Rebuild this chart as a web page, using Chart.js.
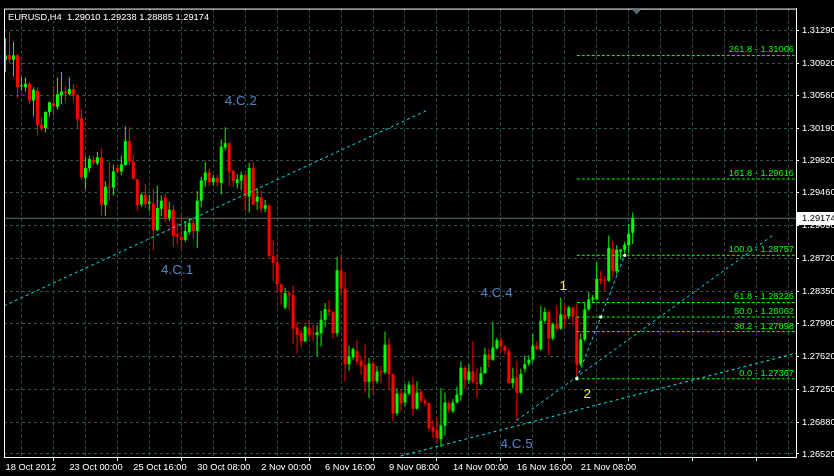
<!DOCTYPE html>
<html lang="en">
<head>
  <meta charset="UTF-8">
  <title>EURUSD,H4</title>
  <style>
    html, body {
      margin: 0;
      padding: 0;
      background-color: #000000;
    }

    #wrap {
      width: 834px;
      height: 476px;
    }
  </style>
</head>
<body>

  <div id="wrap"><canvas id="priceChart" width="834" height="476"></canvas></div>

  <script src="https://cdn.jsdelivr.net/npm/chart.js"></script>

  <script>
    const symbol = "EURUSD,H4";

    // one label every 16 bars (H4 bars), first bar = index 0
    const timeLabels = ["18 Oct 2012", "23 Oct 00:00", "25 Oct 16:00", "30 Oct 08:00", "2 Nov 00:00",
      "6 Nov 16:00", "9 Nov 08:00", "14 Nov 00:00", "16 Nov 16:00", "21 Nov 08:00"];

    const open = [
      1.3096, 1.3101, 1.3096, 1.3101, 1.3066, 1.3065, 1.3069, 1.3050, 1.3061, 1.3023,
      1.3019, 1.3037, 1.3047, 1.3043, 1.3056, 1.3060, 1.3057, 1.3063, 1.3056, 1.3030,
      1.2963, 1.2974, 1.2983, 1.2979, 1.2986, 1.2932, 1.2953, 1.2952, 1.2974, 1.2970,
      1.2977, 1.3004, 1.2981, 1.2961, 1.2933, 1.2944, 1.2934, 1.2934, 1.2904, 1.2928,
      1.2941, 1.2918, 1.2927, 1.2899, 1.2897, 1.2893, 1.2902, 1.2912, 1.2903, 1.2937,
      1.2960, 1.2969, 1.2958, 1.2963, 1.2957, 1.2997, 1.3002, 1.2971, 1.2957, 1.2960,
      1.2966, 1.2942, 1.2974, 1.2936, 1.2941, 1.2928, 1.2932, 1.2875, 1.2868, 1.2843,
      1.2817, 1.2833, 1.2831, 1.2794, 1.2788, 1.2779, 1.2794, 1.2788, 1.2786, 1.2788,
      1.2803, 1.2815, 1.2812, 1.2788, 1.2859, 1.2838, 1.2753, 1.2761, 1.2768, 1.2757,
      1.2752, 1.2733, 1.2754, 1.2734, 1.2745, 1.2744, 1.2775, 1.2742, 1.2698, 1.2720,
      1.2710, 1.2720, 1.2730, 1.2703, 1.2722, 1.2712, 1.2709, 1.2682, 1.2679, 1.2669,
      1.2684, 1.2709, 1.2700, 1.2710, 1.2718, 1.2749, 1.2735, 1.2745, 1.2732, 1.2731,
      1.2743, 1.2764, 1.2758, 1.2771, 1.2780, 1.2773, 1.2768, 1.2732, 1.2738, 1.2721,
      1.2748, 1.2754, 1.2758, 1.2774, 1.2770, 1.2802, 1.2812, 1.2782, 1.2798, 1.2793,
      1.2809, 1.2807, 1.2817, 1.2807, 1.2753, 1.2781, 1.2815, 1.2826, 1.2826, 1.2849,
      1.2848, 1.2847, 1.2883, 1.2858, 1.2880, 1.2882, 1.2887, 1.29010
    ];
    const high = [
      1.3120, 1.3128, 1.3116, 1.3102, 1.3077, 1.3076, 1.3070, 1.3065, 1.3065, 1.3031,
      1.3038, 1.3049, 1.3066, 1.3076, 1.3082, 1.3066, 1.3076, 1.3069, 1.3058, 1.3040,
      1.2987, 1.2988, 1.2987, 1.2992, 1.2996, 1.2959, 1.2981, 1.2978, 1.2978, 1.2988,
      1.3021, 1.3020, 1.2989, 1.2962, 1.2946, 1.2956, 1.2943, 1.2951, 1.2954, 1.2943,
      1.2946, 1.2936, 1.2932, 1.2912, 1.2921, 1.2914, 1.2917, 1.2917, 1.2948, 1.2964,
      1.2981, 1.2973, 1.2966, 1.2966, 1.3006, 1.3020, 1.3003, 1.2972, 1.2967, 1.2970,
      1.2967, 1.2980, 1.2981, 1.2951, 1.2948, 1.2938, 1.2933, 1.2893, 1.2877, 1.2844,
      1.2839, 1.2835, 1.2842, 1.2801, 1.2792, 1.2797, 1.2803, 1.2798, 1.2797, 1.2813,
      1.2822, 1.2825, 1.2813, 1.2874, 1.2876, 1.2857, 1.2774, 1.2772, 1.2780, 1.2762,
      1.2775, 1.2760, 1.2757, 1.2751, 1.2751, 1.2790, 1.2782, 1.2743, 1.2726, 1.2725,
      1.2731, 1.2734, 1.2739, 1.2734, 1.2724, 1.2715, 1.2710, 1.2690, 1.2694, 1.2726,
      1.2721, 1.2712, 1.2714, 1.2728, 1.2756, 1.2751, 1.2753, 1.2779, 1.2749, 1.2750,
      1.2772, 1.2770, 1.2801, 1.2783, 1.2784, 1.2775, 1.2771, 1.2749, 1.2757, 1.2748,
      1.2763, 1.2763, 1.2787, 1.2779, 1.2819, 1.2817, 1.2814, 1.2800, 1.2819, 1.2828,
      1.2820, 1.2819, 1.2818, 1.2821, 1.2788, 1.2823, 1.2834, 1.2831, 1.2868, 1.2858,
      1.2852, 1.2898, 1.2892, 1.2887, 1.2883, 1.2891, 1.2911, 1.29238
    ];
    const low = [
      1.3082, 1.3092, 1.3077, 1.3053, 1.3061, 1.3060, 1.3046, 1.3032, 1.3011, 1.3016,
      1.3014, 1.3032, 1.3033, 1.3040, 1.3046, 1.3049, 1.3056, 1.3049, 1.3019, 1.2961,
      1.2950, 1.2970, 1.2977, 1.2977, 1.2920, 1.2920, 1.2937, 1.2943, 1.2968, 1.2966,
      1.2977, 1.2977, 1.2961, 1.2926, 1.2930, 1.2929, 1.2926, 1.2881, 1.2903, 1.2920,
      1.2913, 1.2914, 1.2885, 1.2888, 1.2883, 1.2891, 1.2899, 1.2894, 1.2884, 1.2930,
      1.2953, 1.2954, 1.2954, 1.2953, 1.2944, 1.2994, 1.2954, 1.2953, 1.2951, 1.2949,
      1.2926, 1.2924, 1.2932, 1.2927, 1.2923, 1.2924, 1.2873, 1.2847, 1.2834, 1.2820,
      1.2815, 1.2814, 1.2776, 1.2765, 1.2772, 1.2778, 1.2783, 1.2779, 1.2762, 1.2773,
      1.2795, 1.2807, 1.2782, 1.2784, 1.2830, 1.2734, 1.2746, 1.2758, 1.2752, 1.2741,
      1.2721, 1.2715, 1.2720, 1.2731, 1.2732, 1.2742, 1.2725, 1.2689, 1.2695, 1.2700,
      1.2706, 1.2718, 1.2695, 1.2702, 1.2709, 1.2706, 1.2677, 1.2670, 1.2664, 1.2660,
      1.2673, 1.2698, 1.2698, 1.2709, 1.2712, 1.2725, 1.2731, 1.2731, 1.2715, 1.2729,
      1.2742, 1.2750, 1.2757, 1.2770, 1.2766, 1.2764, 1.2731, 1.2726, 1.2690, 1.2720,
      1.2744, 1.2751, 1.2755, 1.2769, 1.2768, 1.2800, 1.2763, 1.2780, 1.2790, 1.2792,
      1.2794, 1.2804, 1.2797, 1.27367, 1.2751, 1.2779, 1.2813, 1.2822, 1.2825, 1.2843,
      1.2835, 1.2846, 1.2851, 1.2854, 1.2871, 1.2874, 1.2878, 1.28885
    ];
    const close = [
      1.3101, 1.3096, 1.3101, 1.3065, 1.3067, 1.3069, 1.3050, 1.3062, 1.3022, 1.3018,
      1.3037, 1.3048, 1.3044, 1.3057, 1.3060, 1.3058, 1.3063, 1.3056, 1.3029, 1.2964,
      1.2974, 1.2984, 1.2980, 1.2986, 1.2932, 1.2953, 1.2952, 1.2970, 1.2970, 1.2978,
      1.3004, 1.2981, 1.2962, 1.2932, 1.2944, 1.2933, 1.2936, 1.2904, 1.2929, 1.2937,
      1.2918, 1.2927, 1.2898, 1.2897, 1.2893, 1.2903, 1.2912, 1.2903, 1.2937, 1.2960,
      1.2969, 1.2958, 1.2963, 1.2958, 1.2998, 1.3002, 1.2970, 1.2959, 1.2961, 1.2966,
      1.2942, 1.2974, 1.2933, 1.2942, 1.2928, 1.2932, 1.2875, 1.2867, 1.2843, 1.2834,
      1.2833, 1.2831, 1.2793, 1.2786, 1.2779, 1.2795, 1.2786, 1.2787, 1.2789, 1.2803,
      1.2815, 1.2812, 1.2788, 1.2859, 1.2838, 1.2753, 1.2762, 1.2770, 1.2756, 1.2751,
      1.2733, 1.2754, 1.2734, 1.2745, 1.2744, 1.2775, 1.2742, 1.2698, 1.2720, 1.2709,
      1.2720, 1.2730, 1.2703, 1.2721, 1.2712, 1.2709, 1.2681, 1.2677, 1.2670, 1.2684,
      1.2710, 1.2702, 1.2710, 1.2719, 1.2749, 1.2736, 1.2745, 1.2733, 1.2731, 1.2743,
      1.2764, 1.2758, 1.2772, 1.2780, 1.2773, 1.2768, 1.2732, 1.2737, 1.2721, 1.2742,
      1.2753, 1.2758, 1.2774, 1.2770, 1.2802, 1.2812, 1.2782, 1.2798, 1.2793, 1.2809,
      1.2804, 1.2817, 1.2807, 1.2753, 1.2781, 1.2815, 1.2826, 1.2828, 1.2849, 1.2847,
      1.2847, 1.2884, 1.2858, 1.2882, 1.2882, 1.2888, 1.2900, 1.29174
    ];

    const priceTicks = [1.26520, 1.26880, 1.27250, 1.27620, 1.27990, 1.28350, 1.28720,
      1.29090, 1.29460, 1.29820, 1.30190, 1.30560, 1.30920, 1.31290];

    // fibonacci retracement drawn from bar 143
    const fibLevels = ["0.0", "38.2", "50.0", "61.8", "100.0", "161.8", "261.8"];
    const fibPrices = [1.27367, 1.27898, 1.28062, 1.28226, 1.28757, 1.29616, 1.31006];
    const fibStartBar = 143;
    const fibMarkBars = [143, 149, 155];
    const fibMarkPrices = [1.27367, 1.28062, 1.28757];

    // trend lines: [bar, price] start and end
    const trendStart = [[-0.375, 1.28188], [98.9, 1.26497], [128, 1.26900], [143, 1.27367]];
    const trendEnd = [[105.55, 1.30389], [197.875, 1.27654], [191.9, 1.28977], [155, 1.28757]];

    const waveText = ["4.C.1", "4.C.2", "4.C.4", "4.C.5"];
    const waveBars = [38.9, 54.9, 118.9, 123.9];
    const wavePrices = [1.28588, 1.30489, 1.28332, 1.26631];

    const pointText = ["1", "2"];
    const pointBars = [139.6, 145.6];
    const pointPrices = [1.28410, 1.27187];

    const lastPrice = close[close.length - 1];

    const bull = "#00ff00", bear = "#ff0000", cyan = "#00e8f0", fibGreen = "#00ff00";
    const gridColor = "#34544f";
    const axisFont = { family: "Liberation Sans", size: 9.3 };
    const xMin = -0.375, xMax = 197.875;

    const bars = open.map((o, i) => i);
    const candleColors = bars.map(i => close[i] >= open[i] ? bull : bear);

    const datasets = [];

    datasets.push({
      type: "line",
      data: [{ x: xMin, y: lastPrice }, { x: xMax, y: lastPrice }],
      borderColor: "#5b6f6f",
      borderWidth: 1,
      pointRadius: 0,
      order: 20
    });

    datasets.push({
      type: "bar",
      data: bars.map(i => ({ x: i, y: [low[i], high[i]] })),
      backgroundColor: candleColors,
      barThickness: 1,
      grouped: false,
      inflateAmount: 0,
      order: 10
    });

    datasets.push({
      type: "bar",
      data: bars.map(i => ({ x: i, y: [open[i], close[i]] })),
      backgroundColor: candleColors,
      barThickness: 3,
      minBarLength: 1,
      grouped: false,
      inflateAmount: 0,
      order: 9
    });

    fibPrices.forEach(p => {
      datasets.push({
        type: "line",
        data: [{ x: fibStartBar, y: p }, { x: xMax, y: p }],
        borderColor: fibGreen,
        borderWidth: 1,
        borderDash: [3, 2],
        pointRadius: 0,
        order: 5
      });
    });

    trendStart.forEach((s, k) => {
      datasets.push({
        type: "line",
        data: [{ x: s[0], y: s[1] }, { x: trendEnd[k][0], y: trendEnd[k][1] }],
        borderColor: cyan,
        borderWidth: 1,
        borderDash: [3, 3],
        pointRadius: 0,
        order: 4
      });
    });

    datasets.push({
      type: "line",
      data: fibMarkBars.map((b, k) => ({ x: b, y: fibMarkPrices[k] })),
      showLine: false,
      pointStyle: "rect",
      pointRadius: 2,
      pointBackgroundColor: "#ffffff",
      pointBorderWidth: 0,
      order: 1
    });

    const overlay = {
      id: "overlay",
      afterDraw(chart) {
        const ctx = chart.ctx;
        const area = chart.chartArea;
        const xs = chart.scales.x, ys = chart.scales.y;
        ctx.save();

        // frame
        ctx.strokeStyle = "#ffffff";
        ctx.lineWidth = 1;
        ctx.strokeRect(area.left + 0.5, area.top + 0.5, area.right - area.left, area.bottom - area.top);

        // chart shift marker
        const sx = xs.getPixelForValue(open.length);
        ctx.fillStyle = "#4d6b6b";
        ctx.beginPath();
        ctx.moveTo(sx - 4.5, area.top + 1);
        ctx.lineTo(sx + 4.5, area.top + 1);
        ctx.lineTo(sx, area.top + 6);
        ctx.closePath();
        ctx.fill();

        // header
        const n = open.length - 1;
        ctx.font = "9.3px 'Liberation Sans'";
        ctx.fillStyle = "#ffffff";
        ctx.textAlign = "left";
        ctx.textBaseline = "middle";
        ctx.fillText(symbol + "  " + [open[n], high[n], low[n], close[n]].map(v => v.toFixed(5)).join(" "),
          area.left + 4, area.top + 9);

        // fibo level texts
        ctx.fillStyle = fibGreen;
        ctx.textAlign = "right";
        ctx.textBaseline = "bottom";
        fibPrices.forEach((p, k) => {
          ctx.fillText(fibLevels[k] + " - " + p.toFixed(5), area.right - 2, ys.getPixelForValue(p) - 1);
        });

        // wave labels
        ctx.font = "13.5px 'Liberation Sans'";
        ctx.fillStyle = "#5080c0";
        ctx.textAlign = "left";
        ctx.textBaseline = "middle";
        waveText.forEach((t, k) => {
          ctx.fillText(t, xs.getPixelForValue(waveBars[k]), ys.getPixelForValue(wavePrices[k]));
        });

        ctx.fillStyle = "#ffff00";
        ctx.textAlign = "center";
        pointText.forEach((t, k) => {
          ctx.fillText(t, xs.getPixelForValue(pointBars[k]), ys.getPixelForValue(pointPrices[k]));
        });

        // last price box on the axis
        const py = Math.round(ys.getPixelForValue(lastPrice));
        ctx.fillStyle = "#ffffff";
        ctx.fillRect(area.right + 1, py - 6, chart.width - area.right - 1, 13);
        ctx.fillStyle = "#000000";
        ctx.font = "9.3px 'Liberation Sans'";
        ctx.textAlign = "left";
        ctx.textBaseline = "middle";
        ctx.fillText(lastPrice.toFixed(5), area.right + 6, py + 0.5);

        ctx.restore();
      }
    };

    new Chart(document.getElementById("priceChart"), {
      type: "bar",
      data: { datasets: datasets },
      options: {
        responsive: false,
        animation: false,
        devicePixelRatio: 1,
        layout: { padding: { left: 3, top: 3, right: 0, bottom: 0 } },
        plugins: {
          legend: { display: false },
          tooltip: { enabled: false }
        },
        scales: {
          x: {
            type: "linear",
            min: xMin,
            max: xMax,
            offset: false,
            afterBuildTicks: scale => {
              const t = [];
              for (let v = 0; v <= 192; v += 8) t.push({ value: v });
              scale.ticks = t;
            },
            afterFit: scale => { scale.height = 19; },
            grid: {
              color: c => (c.tick && c.tick.value === 0) ? "rgba(0,0,0,0)" : gridColor,
              tickColor: c => (c.tick && c.tick.value % 16 === 0) ? "#ffffff" : "rgba(0,0,0,0)",
              tickLength: 4,
              lineWidth: 1
            },
            border: { color: "#ffffff", dash: [3, 3] },
            ticks: {
              color: "#ffffff",
              font: axisFont,
              align: "start",
              maxRotation: 0,
              autoSkip: false,
              padding: 1,
              callback: v => (v % 16 === 0 && timeLabels[v / 16]) ? timeLabels[v / 16] : ""
            }
          },
          y: {
            position: "right",
            min: 1.26486,
            max: 1.31535,
            afterBuildTicks: scale => { scale.ticks = priceTicks.map(v => ({ value: v })); },
            afterFit: scale => { scale.width = 38; },
            grid: { color: gridColor, tickColor: "#ffffff", tickLength: 3 },
            border: { color: "#ffffff", dash: [3, 3] },
            ticks: {
              color: "#ffffff",
              font: axisFont,
              padding: 3,
              callback: v => v.toFixed(5)
            }
          }
        }
      },
      plugins: [overlay]
    });
  </script>

</body>
</html>
